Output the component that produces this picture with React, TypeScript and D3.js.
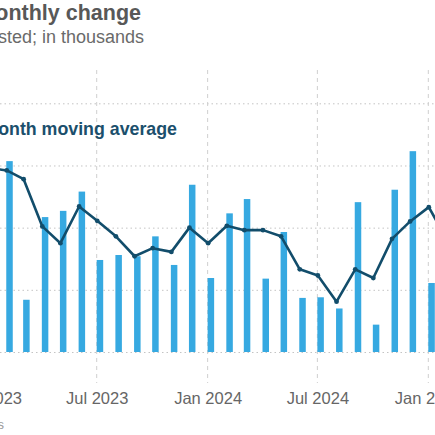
import React, { useEffect, useRef } from 'react';
import * as d3 from 'd3';

// Monthly change in payrolls, Jan 2023 - Feb 2025 (thousands)
const months: string[] = [
  '2023-01', '2023-02', '2023-03', '2023-04', '2023-05', '2023-06',
  '2023-07', '2023-08', '2023-09', '2023-10', '2023-11', '2023-12',
  '2024-01', '2024-02', '2024-03', '2024-04', '2024-05', '2024-06',
  '2024-07', '2024-08', '2024-09', '2024-10', '2024-11', '2024-12',
  '2025-01', '2025-02',
];

const monthlyChange: number[] = [
  450, 307, 84, 217, 227, 258,
  148, 156, 154, 186, 140, 269,
  119, 223, 246, 118, 193, 87,
  88, 70, 241, 44, 261, 323,
  111, 103,
];

const movingAverage: number[] = [
  296, 292, 278, 202, 175, 234,
  211, 186, 154, 167, 161, 200,
  175, 203, 196, 196, 186, 133,
  123, 81, 133, 119, 182, 210,
  233, 179,
];

const yTicks: number[] = [0, 100, 200, 300, 400];
const xTicks: string[] = ['2023-01', '2023-07', '2024-01', '2024-07', '2025-01'];

const FONT = '"Liberation Sans", Arial, Helvetica, sans-serif';

export default function App() {
  const svgRef = useRef<SVGSVGElement>(null);

  useEffect(() => {
    if (!svgRef.current) return;
    const svg = d3.select(svgRef.current);
    svg.selectAll('*').remove();

    const W = 435;
    const H = 435;
    const parse = d3.timeParse('%Y-%m');
    const dates = months.map(m => parse(m) as Date);

    const x = d3.scaleTime()
      .domain([parse('2023-07') as Date, parse('2025-01') as Date])
      .range([96.7, 428.3]);

    const y = d3.scaleLinear()
      .domain([0, 400])
      .range([352, 103.3]);

    const barW = 6.5;

    // horizontal dotted grid
    svg.append('g')
      .call(d3.axisLeft(y).tickValues(yTicks).tickSize(-W).tickFormat(() => ''))
      .call(g => g.select('.domain').remove())
      .call(g => g.selectAll('.tick line')
        .attr('stroke', '#c4c4c4')
        .attr('stroke-width', 1)
        .attr('stroke-dasharray', '1.5,3'));

    // vertical dashed grid
    svg.append('g')
      .selectAll('line')
      .data(xTicks)
      .join('line')
      .attr('x1', d => x(parse(d) as Date))
      .attr('x2', d => x(parse(d) as Date))
      .attr('y1', 70)
      .attr('y2', 383)
      .attr('stroke', '#cfcfcf')
      .attr('stroke-width', 1)
      .attr('stroke-dasharray', '4,4');

    // bars
    svg.append('g')
      .selectAll('rect')
      .data(monthlyChange)
      .join('rect')
      .attr('x', (_, i) => x(dates[i]))
      .attr('y', d => y(d))
      .attr('width', barW)
      .attr('height', d => y(0) - y(d))
      .attr('fill', '#36a9e1');

    // moving average line
    const line = d3.line<number>()
      .x((_, i) => x(dates[i]) + 0.5)
      .y(d => y(d));

    svg.append('path')
      .datum(movingAverage)
      .attr('d', line)
      .attr('fill', 'none')
      .attr('stroke', '#124d6b')
      .attr('stroke-width', 2.6)
      .attr('stroke-linejoin', 'round');

    svg.append('g')
      .selectAll('circle')
      .data(movingAverage)
      .join('circle')
      .attr('cx', (_, i) => x(dates[i]) + 0.5)
      .attr('cy', d => y(d))
      .attr('r', 2.4)
      .attr('fill', '#124d6b');

    // x axis labels
    svg.append('g')
      .attr('transform', 'translate(0,404)')
      .call(d3.axisBottom(x)
        .tickValues(xTicks.map(t => parse(t) as Date))
        .tickSize(0)
        .tickFormat(d => d3.timeFormat('%b %Y')(d as Date)))
      .call(g => g.select('.domain').remove())
      .call(g => g.selectAll('.tick text')
        .attr('dy', 0)
        .attr('y', 0)
        .attr('fill', '#666')
        .style('font-family', FONT)
        .style('font-size', '16.5px'));

    // titles
    svg.append('text')
      .attr('x', 141)
      .attr('y', 20)
      .attr('text-anchor', 'end')
      .attr('fill', '#585858')
      .style('font-family', FONT)
      .style('font-size', '21.5px')
      .style('font-weight', 'bold')
      .text('Nonfarm payrolls: Monthly change');

    svg.append('text')
      .attr('x', 144)
      .attr('y', 42.5)
      .attr('text-anchor', 'end')
      .attr('fill', '#6a6a6a')
      .style('font-family', FONT)
      .style('font-size', '18px')
      .text('Seasonally adjusted; in thousands');

    svg.append('text')
      .attr('x', 177)
      .attr('y', 134.5)
      .attr('text-anchor', 'end')
      .attr('fill', '#1b4f6c')
      .style('font-family', FONT)
      .style('font-size', '17.8px')
      .style('font-weight', 'bold')
      .text('3-month moving average');

    svg.append('text')
      .attr('x', 4)
      .attr('y', 429)
      .attr('text-anchor', 'end')
      .attr('fill', '#9a9a9a')
      .style('font-family', FONT)
      .style('font-size', '13px')
      .text('Source: U.S. Bureau of Labor Statistics');

    svg.attr('width', W).attr('height', H);
  }, []);

  return (
    <svg
      ref={svgRef}
      width={435}
      height={435}
      style={{ position: 'absolute', left: 0, top: 0, overflow: 'hidden', background: '#fff' }}
    />
  );
}
